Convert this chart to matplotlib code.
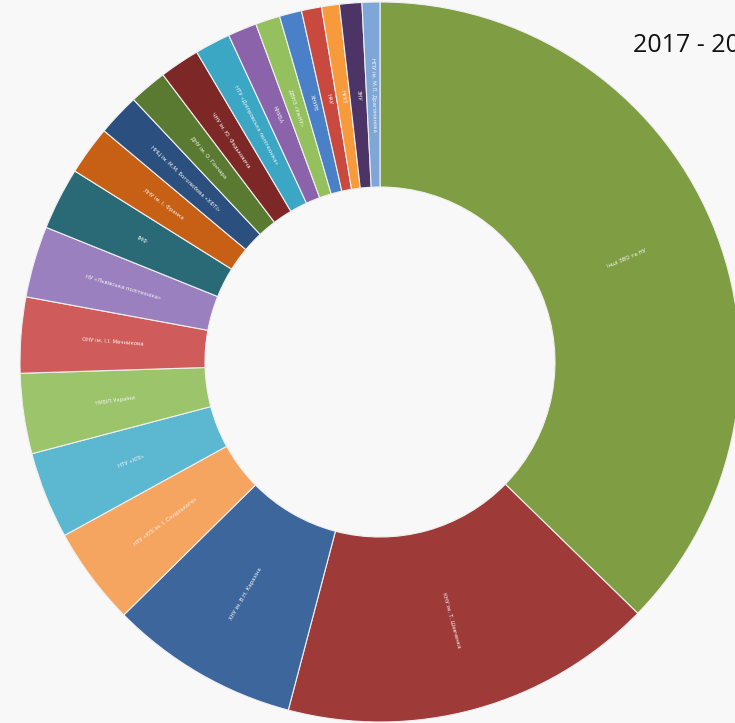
import numpy as np
import matplotlib
matplotlib.use('Agg')
import matplotlib.pyplot as plt

# Institutions (clockwise from 12 o'clock) and their shares, %
labels = [
    'Інші ЗВО та НУ',
    'КНУ ім. Т. Шевченка',
    'ХНУ ім. В.Н. Каразіна',
    'НТУ «КПІ ім. І. Сікорського»',
    'НТУ «ХПІ»',
    'НУБіП України',
    'ОНУ ім. І.І. Мечникова',
    'НУ «Львівська політехніка»',
    'ІМФ',
    'ЛНУ ім. І. Франка',
    'ННЦ ім. М.М. Боголюбова «ХФТІ»',
    'ДНУ ім. О. Гончара',
    'ЧНУ ім. Ю. Федьковича',
    'НТУ «Дніпровська політехніка»',
    'КНУБА',
    'ДВНЗ «УжНУ»',
    'ХНУРЕ',
    'НАУ',
    'НУХТ',
    'ЗНУ',
    'НПУ ім. М.П. Драгоманова',
]
shares = [37.3, 16.8, 8.5, 4.4, 3.9, 3.6, 3.4, 3.2, 2.8, 2.2, 1.9, 1.7,
          1.8, 1.6, 1.3, 1.1, 1.0, 0.9, 0.8, 1.0, 0.8]
colors = ['#7f9e43', '#9e3a37', '#3d679c', '#f6a561', '#5cb7d0', '#9cc46a',
          '#cf5c5a', '#9a80be', '#2a6a76', '#c75f14', '#2b4f7e', '#5b7a31',
          '#7e2727', '#3ba7c5', '#8a63ab', '#94c15d', '#4a80c7', '#c9493f',
          '#f79a3c', '#4c3566', '#7ea6d6']

W, H = 735, 723
cx, cy = 380, 362
R, r_in = 360, 175

fig = plt.figure(figsize=(W / 100, H / 100), dpi=100)
fig.patch.set_facecolor('#f8f8f8')
ax = fig.add_axes([0, 0, 1, 1])

wedges, _ = ax.pie(shares, colors=colors, radius=R, startangle=90,
                   counterclock=False,
                   wedgeprops=dict(width=R - r_in, edgecolor='#f0f0f0',
                                   linewidth=0.8))
ax.set_xlim(-cx, W - cx)
ax.set_ylim(-(H - cy), cy)
ax.set_aspect('equal')
ax.axis('off')

# labels along the radius, in the middle of the ring
mid_r = (R + r_in) / 2
for w, lab in zip(wedges, labels):
    ang = (w.theta1 + w.theta2) / 2
    x = mid_r * np.cos(np.radians(ang))
    y = mid_r * np.sin(np.radians(ang))
    rot = ((ang + 180) % 360) - 180
    if rot > 90:
        rot -= 180
    elif rot < -90:
        rot += 180
    ax.text(x, y, lab, rotation=rot, ha='center', va='center',
            fontsize=3.9, color='#f4f4f4', rotation_mode='anchor')

fig.text(633 / W, 1 - 46 / H, '2017 - 2018', fontsize=18,
         fontfamily='Open Sans', color='#111111', va='center', ha='left')

fig.savefig('out.png', dpi=100, facecolor=fig.get_facecolor())
